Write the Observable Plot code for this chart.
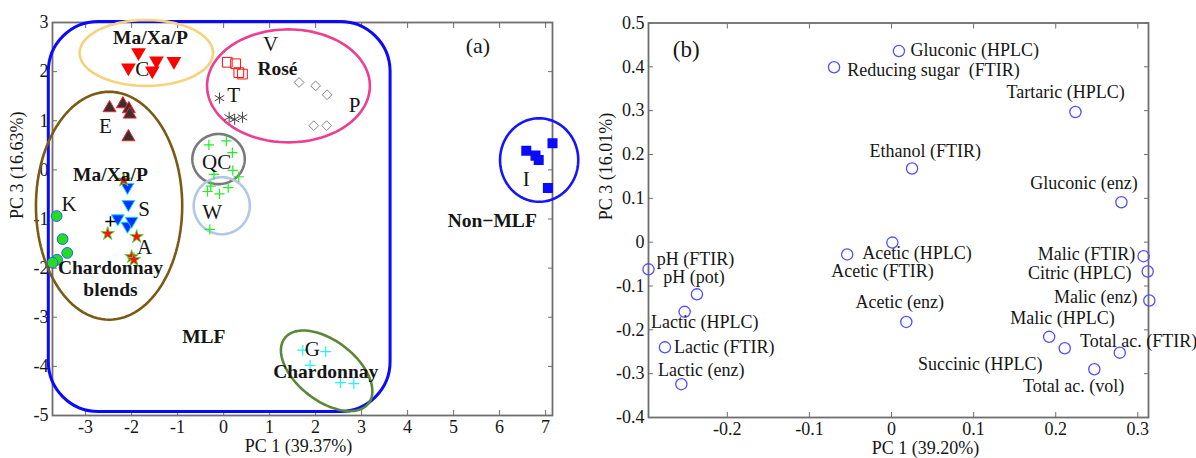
<!DOCTYPE html>
<html><head><meta charset="utf-8">
<script src="https://cdn.jsdelivr.net/npm/d3@7"></script>
<script src="https://cdn.jsdelivr.net/npm/@observablehq/plot@0.6"></script>
<style>
body{margin:0;background:#fff;}
#wrap{position:relative;width:1196px;height:458px;overflow:hidden;background:#fff;}
#a{position:absolute;left:0;top:0;}
#b{position:absolute;left:590px;top:0;}
</style></head><body><div id="wrap"><div id="a"></div><div id="b"></div></div>
<script>
// ---------- Panel (a): PCA scores, PC1 vs PC3 ----------
const scoreC  = [[-1.85,2.39],[-2.07,2.08],[-1.46,2.22],[-1.55,2.02],[-1.08,2.21]];
const scoreE  = [[-2.48,1.26],[-2.19,1.34],[-2.06,1.24],[-2.04,1.13],[-2.07,0.67]];
const scoreV  = [[0.08,2.19],[0.26,2.16],[0.41,1.95],[0.33,1.98]];
const scoreT  = [[-0.09,1.46],[0.12,1.07],[0.24,1.03],[0.41,1.07]];
const scoreP  = [[1.64,1.78],[2.00,1.71],[2.25,1.53],[1.96,0.90],[2.24,0.90]];
const scoreQW = [[-0.32,0.51],[0.06,0.59],[0.19,0.35],[-0.21,-0.09],[0.20,-0.01],[0.33,-0.14],[-0.28,-0.33],[-0.35,-0.44],[-0.09,-0.49],[0.10,-0.36],[-0.30,-1.21]];
const scoreS  = [[-2.09,-0.35],[-2.07,-0.70],[-2.30,-0.99],[-2.09,-1.14],[-2.00,-1.04]];
const scoreA  = [[-2.17,-0.21],[-2.52,-1.30],[-1.89,-1.36],[-2.00,-1.77],[-1.95,-1.83]];
const scoreX  = [[-2.46,-1.05]];
const scoreK  = [[-3.63,-0.94],[-3.50,-1.41],[-3.40,-1.69],[-3.62,-1.83],[-3.72,-1.89]];
const scoreG  = [[1.72,-3.67],[2.22,-3.70],[1.88,-3.98],[2.54,-4.33],[2.83,-4.35]];
const scoreI  = [[6.58,0.39],[6.78,0.29],[6.85,0.20],[7.15,0.54],[7.05,-0.37]];

const sampleLabels  = ["C","V","T","P","E","QC","S","W","K","A","I","G"];
const sampleLabelX  = [-1.77,1.02,0.22,2.85,-2.57,-0.15,-1.73,-0.25,-3.36,-1.72,6.58,1.93];
const sampleLabelY  = [2.05,2.56,1.51,1.32,0.88,0.15,-0.80,-0.86,-0.71,-1.58,-0.19,-3.65];
const groupLabels   = ["Ma/Xa/P","Rosé","Ma/Xa/P","Chardonnay","blends","MLF","Non\u2212MLF","Chardonnay"];
const groupLabelX   = [-1.59,1.17,-2.46,-2.46,-2.46,-0.43,5.84,2.22];
const groupLabelY   = [2.69,2.05,-0.10,-1.99,-2.44,-3.40,-1.04,-4.11];

const aTicksX = [-3,-2,-1,0,1,2,3,4,5,6,7];
const aTicksY = [-5,-4,-3,-2,-1,0,1,2,3];

// group outlines: centre + two semi-axis vectors (data units)
const ellCenters = [[-1.68,2.38],[1.41,1.71],[-2.49,-0.73],[-0.11,0.22],[-0.04,-0.73],[6.86,0.20],[2.24,-4.09]];
const ellAxisU   = [[1.45,0],[1.77,0],[1.59,0],[0.57,0],[0.61,0],[0.85,0],[0.91,-0.665]];
const ellAxisV   = [[0,0.67],[0,1.15],[0,2.32],[0,0.51],[0,0.58],[0,0.85],[-0.40,-0.48]];
const ellColors  = ["#f7d27c","#ec3f8f","#7b5a14","#7a7a7a","#b3c6e6","#1414ff","#5a883a"];
const mlfBox = [{x1:-3.80,x2:3.63,y1:-4.93,y2:3.01}];

// ---------- Panel (b): loadings ----------
const loadNames = ["Gluconic (HPLC)","Reducing sugar  (FTIR)","Tartaric (HPLC)","Ethanol (FTIR)","Gluconic (enz)",
  "pH (FTIR)","pH (pot)","Lactic (HPLC)","Lactic (FTIR)","Lactic (enz)",
  "Acetic (HPLC)","Acetic (FTIR)","Acetic (enz)","Malic (FTIR)","Citric (HPLC)",
  "Malic (enz)","Malic (HPLC)","Succinic (HPLC)","Total ac. (FTIR)","Total ac. (vol)"];
const loadX = [0.009,-0.070,0.224,0.025,0.280,-0.296,-0.237,-0.252,-0.276,-0.256,-0.054,0.001,0.018,0.307,0.312,0.314,0.192,0.211,0.278,0.247];
const loadY = [0.436,0.399,0.297,0.168,0.091,-0.062,-0.119,-0.159,-0.240,-0.324,-0.028,-0.001,-0.182,-0.032,-0.067,-0.133,-0.216,-0.242,-0.252,-0.290];
const loadLabelX = [0.0232,-0.054,0.284,0.109,0.300,-0.286,-0.278,-0.293,-0.265,-0.2845,-0.0357,-0.0735,-0.0439,0.2968,0.2923,0.2996,0.272,0.1838,0.2296,0.2834];
const loadLabelY = [0.438,0.393,0.341,0.208,0.134,-0.038,-0.080,-0.182,-0.239,-0.2916,-0.0257,-0.0666,-0.136,-0.0265,-0.0718,-0.1264,-0.174,-0.278,-0.227,-0.328];
const loadLabelSide = ["start","start","end","end","end","start","start","start","start","start","start","start","start","end","end","end","end","end","start","end"];
const bTicksX = [-0.2,-0.1,0,0.1,0.2,0.3];
const bTicksY = [-0.4,-0.3,-0.2,-0.1,0,0.1,0.2,0.3,0.4,0.5];

// ---------- helpers ----------
const FONT = "'Liberation Serif', 'DejaVu Serif', serif";
const AX = "#6e6e6e";
const INK = "#161616";
const sqrt3 = Math.sqrt(3);
const triangleDown = {draw(ctx, size){ const y = -Math.sqrt(size/(sqrt3*3)); ctx.moveTo(0,-y*2); ctx.lineTo(-sqrt3*y,y); ctx.lineTo(sqrt3*y,y); ctx.closePath(); }};
const pts = arr => arr.map(([x,y]) => ({x,y}));

function axes(xt, yt, fmt) {
  const base = {stroke: AX, fill: INK, tickSize: -5, label: null, fontSize: 18};
  return [
    Plot.axisX(xt, {...base, anchor: "bottom", tickPadding: 10, tickFormat: fmt}),
    Plot.axisX(xt, {...base, anchor: "top", tickFormat: () => ""}),
    Plot.axisY(yt, {...base, anchor: "left", tickPadding: 9, tickFormat: fmt}),
    Plot.axisY(yt, {...base, anchor: "right", tickFormat: () => ""}),
    Plot.frame({stroke: AX, strokeWidth: 1.8})
  ];
}
const fmt = d => String(d);

// ---------- build panel (a) ----------
const ellipseLines = ellCenters.map((c, i) => {
  const u = ellAxisU[i], v = ellAxisV[i];
  const ring = d3.range(0, 121).map(k => {
    const t = k / 120 * 2 * Math.PI;
    return {x: c[0] + u[0]*Math.cos(t) + v[0]*Math.sin(t), y: c[1] + u[1]*Math.cos(t) + v[1]*Math.sin(t)};
  });
  return Plot.line(ring, {x: "x", y: "y", stroke: ellColors[i], strokeWidth: 2.6});
});

const plotA = Plot.plot({
  width: 590, height: 458,
  marginLeft: 52, marginRight: 38, marginTop: 22, marginBottom: 43,
  x: {domain: [-3.72, 7.15]},
  y: {domain: [-5, 3]},
  style: {fontFamily: FONT, background: "white", color: INK, overflow: "visible"},
  marks: [
    ...axes(aTicksX, aTicksY, fmt),
    Plot.rect(mlfBox, {x1: "x1", x2: "x2", y1: "y1", y2: "y2", fill: "none", stroke: "#0a0aff", strokeWidth: 3, rx: 50}),
    ...ellipseLines,
    Plot.dot(pts(scoreC), {x: "x", y: "y", symbol: triangleDown, r: 4.5, fill: "#ff0000", stroke: "#ff0000"}),
    Plot.dot(pts(scoreE), {x: "x", y: "y", symbol: "triangle", r: 4.8, fill: "#333333", stroke: "#ff2020", strokeWidth: 1}),
    Plot.dot(pts(scoreV), {x: "x", y: "y", symbol: "square2", r: 6.2, stroke: "#ff1010", strokeWidth: 1}),
    Plot.dot(pts(scoreT), {x: "x", y: "y", symbol: "asterisk", r: 5.2, stroke: "#444444", strokeWidth: 1}),
    Plot.dot(pts(scoreP), {x: "x", y: "y", symbol: "diamond2", r: 4.4, stroke: "#858585", strokeWidth: 1}),
    Plot.dot(pts(scoreQW), {x: "x", y: "y", symbol: "plus", r: 3.4, stroke: "#22ee22", strokeWidth: 1.2}),
    Plot.dot(pts(scoreS), {x: "x", y: "y", symbol: triangleDown, r: 4.7, fill: "#0030ff", stroke: "#00ddff", strokeWidth: 1}),
    Plot.dot(pts(scoreA), {x: "x", y: "y", symbol: "star", r: 4.3, fill: "#ff1010", stroke: "#33ee33", strokeWidth: 0.8}),
    Plot.dot(pts(scoreX), {x: "x", y: "y", symbol: "plus", r: 3.4, stroke: "#000", strokeWidth: 1.5}),
    Plot.dot(pts(scoreK), {x: "x", y: "y", symbol: "circle", r: 5.4, fill: "#22dd22", stroke: "#2a5cff", strokeWidth: 1}),
    Plot.dot(pts(scoreG), {x: "x", y: "y", symbol: "plus", r: 3.6, stroke: "#22f4f4", strokeWidth: 1.2}),
    Plot.dot(pts(scoreI), {x: "x", y: "y", symbol: "square", r: 4.8, fill: "#0a0aff", stroke: "#0a0aff"}),
    Plot.text(sampleLabels, {x: (d,i) => sampleLabelX[i], y: (d,i) => sampleLabelY[i], text: d => d, fontSize: 21, fill: INK}),
    Plot.text(groupLabels, {x: (d,i) => groupLabelX[i], y: (d,i) => groupLabelY[i], text: d => d, fontSize: 19.5, fontWeight: "bold", fill: INK}),
    Plot.text(["(a)"], {x: () => 5.53, y: () => 2.53, text: d => d, fontSize: 22, fill: INK}),
    Plot.text(["PC 1 (39.37%)"], {frameAnchor: "bottom", dy: 36, dx: -4, text: d => d, fontSize: 18, fill: INK}),
    Plot.text(["PC 3 (16.63%)"], {frameAnchor: "left", rotate: -90, dx: -35, text: d => d, fontSize: 18, fill: INK})
  ]
});
document.getElementById("a").appendChild(plotA);

// ---------- build panel (b) ----------
const loadRows = loadNames.map((n, i) => ({name: n, x: loadX[i], y: loadY[i], lx: loadLabelX[i], ly: loadLabelY[i], side: loadLabelSide[i]}));
const plotB = Plot.plot({
  width: 606, height: 458,
  marginLeft: 58, marginRight: 48, marginTop: 22.5, marginBottom: 41,
  x: {domain: [-0.296, 0.313]},
  y: {domain: [-0.4, 0.5]},
  style: {fontFamily: FONT, background: "white", color: INK, overflow: "visible"},
  marks: [
    ...axes(bTicksX, bTicksY, fmt),
    Plot.dot(loadRows, {x: "x", y: "y", r: 5.6, stroke: "#4f4fff", strokeWidth: 1.3, fill: "none"}),
    Plot.text(loadRows.filter(d => d.side === "start"), {x: "lx", y: "ly", text: "name", textAnchor: "start", fontSize: 18, fill: INK}),
    Plot.text(loadRows.filter(d => d.side === "end"), {x: "lx", y: "ly", text: "name", textAnchor: "end", fontSize: 18, fill: INK}),
    Plot.text(["(b)"], {x: () => -0.2665, y: () => 0.440, text: d => d, textAnchor: "start", fontSize: 23, fill: INK}),
    Plot.text(["PC 1 (39.20%)"], {frameAnchor: "bottom", dy: 36, dx: 27, text: d => d, fontSize: 18, fill: INK}),
    Plot.text(["PC 3 (16.01%)"], {frameAnchor: "left", rotate: -90, dx: -42, text: d => d, fontSize: 18, fill: INK})
  ]
});
document.getElementById("b").appendChild(plotB);
</script></body></html>
